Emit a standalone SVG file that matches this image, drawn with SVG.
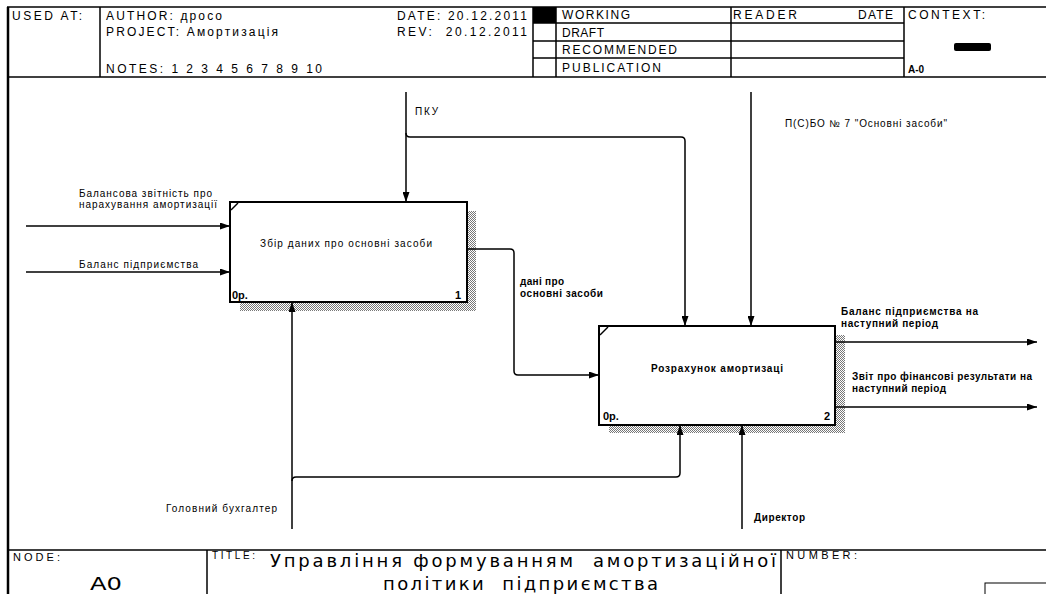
<svg xmlns="http://www.w3.org/2000/svg" width="1046" height="594" viewBox="0 0 1046 594">
<style>
.t{font-family:"Liberation Sans",Arial,sans-serif;fill:#000}
.h{font-size:12px}
.s{font-size:10px}
.b{font-weight:bold}
.ti{font-family:"DejaVu Sans","Liberation Sans",sans-serif;fill:#000}
.ln{stroke:#000;stroke-width:1.5;fill:none}
.fr{stroke:#000;stroke-width:1.5;fill:none}
.box{fill:#fff;stroke:#000;stroke-width:2}
.sh{fill:url(#dots)}
</style>
<defs>
<pattern id="dots" width="2" height="2" patternUnits="userSpaceOnUse">
<rect width="2" height="2" fill="#fff"/>
<rect x="0" y="0" width="1" height="1" fill="#777"/>
<rect x="1" y="1" width="1" height="1" fill="#777"/>
</pattern>
<marker id="ah" markerWidth="10" markerHeight="7" refX="10" refY="3.5" orient="auto" markerUnits="userSpaceOnUse">
<path d="M0,0 L10,3.5 L0,7 z" fill="#000"/>
</marker>
</defs>
<rect width="1046" height="594" fill="#fff"/>

<g id="frame">
<line class="fr" x1="7" y1="7" x2="1046" y2="7"/>
<line x1="8" y1="7" x2="8" y2="594" stroke="#000" stroke-width="2.5"/>
<line class="fr" x1="7" y1="77" x2="1046" y2="77"/>
<line class="fr" x1="100" y1="7" x2="100" y2="77"/>
<line class="fr" x1="533" y1="7" x2="533" y2="77"/>
<line class="fr" x1="556" y1="7" x2="556" y2="77"/>
<line class="fr" x1="731" y1="7" x2="731" y2="77"/>
<line class="fr" x1="904" y1="7" x2="904" y2="77"/>
<line class="fr" x1="533" y1="23" x2="904" y2="23"/>
<line class="fr" x1="533" y1="41" x2="904" y2="41"/>
<line class="fr" x1="533" y1="58" x2="904" y2="58"/>
<rect x="533" y="7" width="23" height="16" fill="#000"/>
<rect x="954" y="43" width="37" height="8" rx="2" fill="#000"/>
<text class="t h" x="12" y="20" textLength="70" lengthAdjust="spacing">USED AT:</text>
<text class="t h" x="106" y="20" textLength="116" lengthAdjust="spacing">AUTHOR: дpoco</text>
<text class="t h" x="106" y="36" textLength="172" lengthAdjust="spacing">PROJECT: Амортизація</text>
<text class="t h" x="106" y="73" textLength="216" lengthAdjust="spacing">NOTES: 1 2 3 4 5 6 7 8 9 10</text>
<text class="t h" x="397" y="20" textLength="130" lengthAdjust="spacing">DATE: 20.12.2011</text>
<text class="t h" x="397" y="36" textLength="130" lengthAdjust="spacing" xml:space="preserve">REV:  20.12.2011</text>
<text class="t h" x="562" y="19" textLength="68" lengthAdjust="spacing">WORKING</text>
<text class="t h" x="562" y="37" textLength="42" lengthAdjust="spacing">DRAFT</text>
<text class="t h" x="562" y="54" textLength="115" lengthAdjust="spacing">RECOMMENDED</text>
<text class="t h" x="562" y="72" textLength="99" lengthAdjust="spacing">PUBLICATION</text>
<text class="t h" x="733" y="19" textLength="64" lengthAdjust="spacing">READER</text>
<text class="t h" x="858" y="19" textLength="35" lengthAdjust="spacing">DATE</text>
<text class="t h" x="908" y="19" textLength="77" lengthAdjust="spacing">CONTEXT:</text>
<text class="t s b" x="908" y="73">A-0</text>

<line class="fr" x1="7" y1="550" x2="1046" y2="550"/>
<line class="fr" x1="207" y1="550" x2="207" y2="594"/>
<line class="fr" x1="781" y1="550" x2="781" y2="594"/>
<rect x="985" y="583" width="80" height="20" fill="none" stroke="#000" stroke-width="1"/>
<text class="t" x="13" y="561" font-size="11" textLength="47" lengthAdjust="spacing">NODE:</text>
<text class="ti" x="90" y="590" font-size="18" textLength="32" lengthAdjust="spacingAndGlyphs">A0</text>
<text class="t" x="212" y="559" font-size="10" textLength="43" lengthAdjust="spacing">TITLE:</text>
<text class="ti" x="270" y="567" font-size="18" textLength="506" lengthAdjust="spacing" xml:space="preserve">Управління формуванням  амортизаційної</text>
<text class="ti" x="383" y="589.5" font-size="18" textLength="275" lengthAdjust="spacing" xml:space="preserve">політики  підприємства</text>
<text class="t" x="786" y="559" font-size="11" textLength="71" lengthAdjust="spacing">NUMBER:</text>
</g>

<g id="node-1">
<rect class="sh" x="467" y="211" width="9" height="100"/>
<rect class="sh" x="240" y="302" width="236" height="9"/>
<rect class="box" x="230" y="202" width="237" height="100"/>
<line x1="231" y1="210" x2="238" y2="203" stroke="#000" stroke-width="1.5"/>
<text class="t s" x="260" y="247" textLength="172" lengthAdjust="spacing">Збір даних про основні засоби</text>
<text class="t b" x="232" y="299" font-size="11">0р.</text>
<text class="t b" x="461" y="299" font-size="11" text-anchor="end">1</text>
</g>

<g id="node-2">
<rect class="sh" x="835" y="335" width="10" height="98"/>
<rect class="sh" x="609" y="425" width="236" height="8"/>
<rect class="box" x="599" y="326" width="236" height="99"/>
<line x1="600" y1="335" x2="608" y2="327" stroke="#000" stroke-width="1.5"/>
<text class="t s b" x="651" y="372" textLength="132" lengthAdjust="spacing">Розрахунок амортизаці</text>
<text class="t b" x="603" y="420" font-size="11">0р.</text>
<text class="t b" x="830" y="420" font-size="11" text-anchor="end">2</text>
</g>

<g id="connectors">
<line class="ln" x1="26" y1="226" x2="230" y2="226" marker-end="url(#ah)"/>
<line class="ln" x1="26" y1="272" x2="230" y2="272" marker-end="url(#ah)"/>
<line class="ln" x1="406" y1="92" x2="406" y2="202" marker-end="url(#ah)"/>
<path class="ln" d="M406,133 Q406,137 410,137 L681,137 Q685,137 685,141 L685,326" marker-end="url(#ah)"/>
<line class="ln" x1="751" y1="92" x2="751" y2="326" marker-end="url(#ah)"/>
<path class="ln" d="M467,249 L510,249 Q514,249 514,253 L514,371 Q514,375 518,375 L599,375" marker-end="url(#ah)"/>
<line class="ln" x1="835" y1="342" x2="1037" y2="342" marker-end="url(#ah)"/>
<line class="ln" x1="835" y1="407" x2="1037" y2="407" marker-end="url(#ah)"/>
<line class="ln" x1="292" y1="529" x2="292" y2="302" marker-end="url(#ah)"/>
<path class="ln" d="M292,481 Q292,477 296,477 L676,477 Q680,477 680,473 L680,425" marker-end="url(#ah)"/>
<line class="ln" x1="742" y1="529" x2="742" y2="425" marker-end="url(#ah)"/>

<text class="t s" x="79" y="197" textLength="133" lengthAdjust="spacing">Балансова звітність про</text>
<text class="t s" x="79" y="208" textLength="138" lengthAdjust="spacing">нарахування амортизації</text>
<text class="t s" x="79" y="268" textLength="119" lengthAdjust="spacing">Баланс підприємства</text>
<text class="t s" x="415" y="115" textLength="23" lengthAdjust="spacing">ПКУ</text>
<text class="t s" x="785" y="127" textLength="162" lengthAdjust="spacing">П(С)БО № 7 "Основні засоби"</text>
<text class="t s b" x="520" y="285" textLength="44" lengthAdjust="spacing">дані про</text>
<text class="t s b" x="520" y="297" textLength="83" lengthAdjust="spacing">основні засоби</text>
<text class="t s b" x="841" y="315" textLength="137" lengthAdjust="spacing">Баланс підприємства на</text>
<text class="t s b" x="841" y="327" textLength="97" lengthAdjust="spacing">наступний період</text>
<text class="t s b" x="852" y="380" textLength="180" lengthAdjust="spacing">Звіт про фінансові результати на</text>
<text class="t s b" x="852" y="392" textLength="94" lengthAdjust="spacing">наступний період</text>
<text class="t s" x="166" y="512" textLength="111" lengthAdjust="spacing">Головний бухгалтер</text>
<text class="t s b" x="754" y="521" textLength="51" lengthAdjust="spacing">Директор</text>
</g>
</svg>
